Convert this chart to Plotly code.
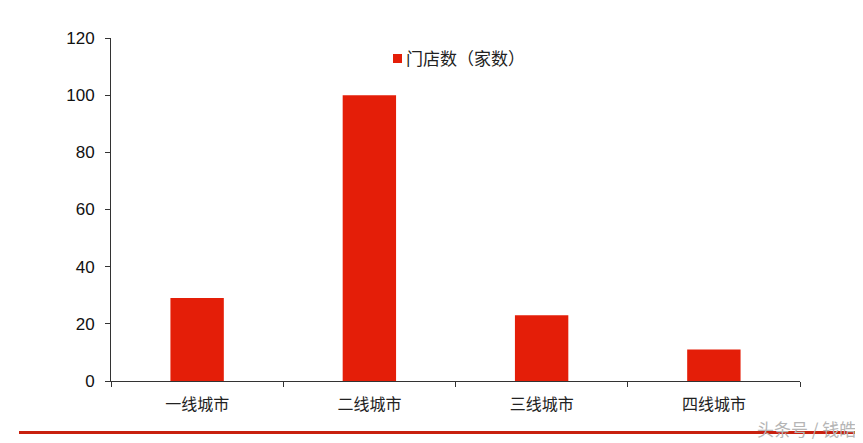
import plotly.graph_objects as go

categories = ["一线城市", "二线城市", "三线城市", "四线城市"]
values = [29, 100, 23, 11]
series_name = "门店数（家数）"
y_ticks = [0, 20, 40, 60, 80, 100, 120]

OFF = 8  # page body margin
W, H = 863 - OFF, 443 - OFF
L, T = 111 - OFF, 38 - OFF
pw, ph = 689, 343
R, B = W - L - pw, H - T - ph

def px_x(x):
    return (x - OFF - L) / pw

def px_y(y):
    return (T + ph - (y - OFF)) / ph

fig = go.Figure()
fig.add_trace(go.Bar(
    x=categories, y=values, name=series_name,
    marker=dict(color="#e41e08", line=dict(width=0)),
    width=0.31, showlegend=False,
))

fig.update_layout(
    width=W, height=H,
    margin=dict(l=L, r=R, t=T, b=B),
    paper_bgcolor="white", plot_bgcolor="white",
    showlegend=False,
    font=dict(family="Liberation Sans, Arial", size=16, color="#111"),
)
fig.update_xaxes(
    showline=True, linecolor="#333", linewidth=1,
    ticks="outside", ticklen=5, tickcolor="#333", tickson="boundaries",
    tickfont=dict(family="Noto Sans CJK SC", size=16, color="#222"),
    ticklabelstandoff=9,
    showgrid=False,
)
fig.update_yaxes(
    range=[0, 120], tickvals=y_ticks,
    showline=True, linecolor="#333", linewidth=1,
    ticks="outside", ticklen=5, tickcolor="#333",
    showgrid=False, zeroline=False,
    ticklabelstandoff=7,
    tickfont=dict(family="Liberation Sans, Arial", size=17, color="#111"),
)

# legend (square + label)
fig.add_shape(type="rect", xref="paper", yref="paper",
              x0=px_x(393), x1=px_x(402), y0=px_y(63), y1=px_y(54),
              fillcolor="#e41e08", line=dict(width=0))
fig.add_annotation(text=series_name, xref="paper", yref="paper",
                   x=px_x(404), y=px_y(58), xanchor="left", yanchor="middle",
                   showarrow=False,
                   font=dict(family="Noto Sans CJK SC", size=17, color="#222"))

fig.add_shape(type="line", xref="paper", yref="paper",
              x0=px_x(19), x1=px_x(860), y0=px_y(432.5), y1=px_y(432.5),
              line=dict(color="#c8200e", width=3))
fig.add_annotation(text="头条号 / 钱皓", xref="paper", yref="paper",
                   x=px_x(806), y=px_y(428), xanchor="center", yanchor="middle",
                   showarrow=False,
                   font=dict(family="Noto Sans CJK SC", size=17, color="#b5b5b5"))

fig.write_html("out.html")
